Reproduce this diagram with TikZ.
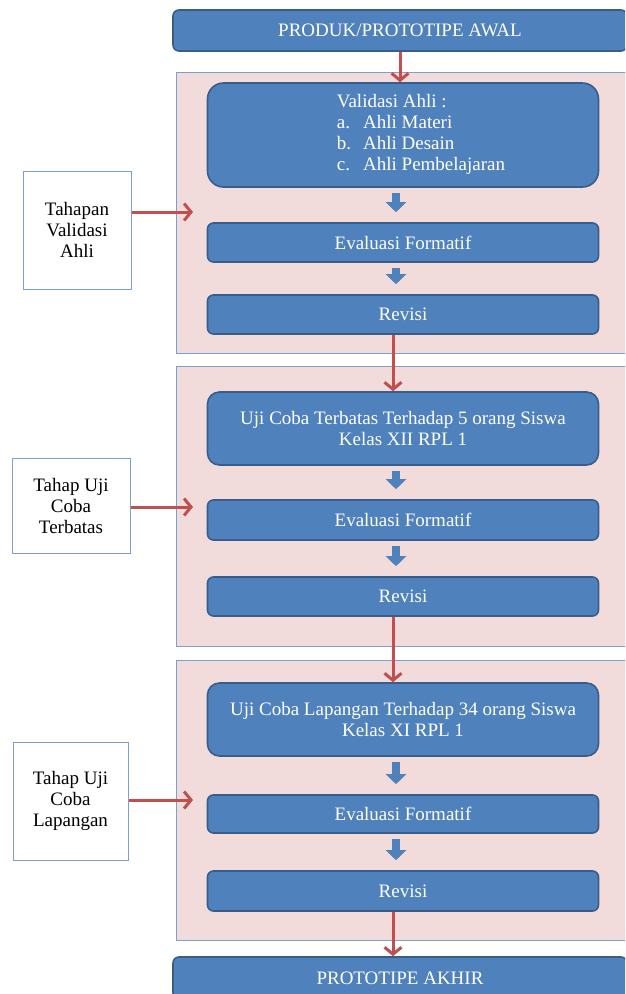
\documentclass[tikz,border=0pt]{standalone}
\usepackage{fontspec}
\setmainfont{Liberation Serif}
\usepackage{xcolor}
\usepackage{tikz}
\usetikzlibrary{arrows.meta,positioning,calc}
\definecolor{inkK}{HTML}{000000}
\definecolor{cBlue}{HTML}{4F81BD}
\definecolor{dBlue}{HTML}{385D8A}
\definecolor{lBlue}{HTML}{7A9FD0}
\definecolor{lRose}{HTML}{F2DCDB}
\definecolor{cRed}{HTML}{C0504D}

\tikzset{
  stagebox/.style={draw=dBlue, line width=1.6pt, fill=cBlue, rounded corners=6pt,
        minimum width=391pt, align=center, inner sep=0pt,
        font=\fontsize{19}{21}\selectfont, text=white},
  panelbox/.style={draw=lBlue, line width=1pt, fill=lRose, minimum width=454pt,
        inner sep=0pt},
  sidebox/.style={draw=lBlue, line width=1pt, fill=white, align=center,
        inner sep=0pt, font=\fontsize{19}{21}\selectfont, text=inkK},
  redarr/.style={draw=cRed, line width=3pt, -{Straight Barb[length=7pt,width=17pt]}},
  blockarr/.style={draw=cBlue, line width=8pt, -{Triangle[length=10pt,width=20pt]}}
}

\begin{document}
\begin{tikzpicture}[x=1pt,y=-1pt]
  \useasboundingbox (0,0) rectangle (625,994);
  \clip (0,0) rectangle (625,994);

  % awal dan akhir
  \node[stagebox, minimum width=454pt, minimum height=41pt] (awal) at (400,30.5)
    {PRODUK/PROTOTIPE AWAL};
  \node[stagebox, minimum width=454pt, minimum height=42pt] (akhir) at (400,978)
    {PROTOTIPE AKHIR};

  % tahap 1
  \node[panelbox, minimum height=281pt] (p1) at (403,212.5) {};
  \node[stagebox, rounded corners=16pt, minimum height=104pt] (va) at (403,135) {%
    \hspace*{36pt}\begin{tabular}{@{}l@{\hspace{12pt}}l@{}}
      \multicolumn{2}{@{}l@{}}{Validasi Ahli :}\\
      a. & Ahli Materi\\
      b. & Ahli Desain\\
      c. & Ahli Pembelajaran
    \end{tabular}};
  \node[stagebox, minimum height=39pt] (ef1) at (403,242.5) {Evaluasi Formatif};
  \node[stagebox, minimum height=39pt] (rv1) at (403,314.5) {Revisi};
  \node[sidebox, minimum width=108pt, minimum height=118pt] (t1) at (77,230)
    {Tahapan\\Validasi\\Ahli};
  \coordinate (in1) at (193,212);

  % tahap 2
  \node[panelbox, minimum height=280pt] (p2) at (403,506) {};
  \node[stagebox, rounded corners=12pt, minimum height=73pt] (uj1) at (403,428.5)
    {Uji Coba Terbatas Terhadap 5 orang Siswa\\Kelas XII RPL 1};
  \node[stagebox, minimum height=40pt] (ef2) at (403,520) {Evaluasi Formatif};
  \node[stagebox, minimum height=39pt] (rv2) at (403,596.5) {Revisi};
  \node[sidebox, minimum width=118pt, minimum height=95pt] (t2) at (71,505.5)
    {Tahap Uji\\Coba\\Terbatas};
  \coordinate (in2) at (193,507);

  % tahap 3
  \node[panelbox, minimum height=280pt] (p3) at (403,800) {};
  \node[stagebox, rounded corners=12pt, minimum height=73pt] (uj2) at (403,719.5)
    {Uji Coba Lapangan Terhadap 34 orang Siswa\\Kelas XI RPL 1};
  \node[stagebox, minimum height=38pt] (ef3) at (403,814) {Evaluasi Formatif};
  \node[stagebox, minimum height=40pt] (rv3) at (403,891) {Revisi};
  \node[sidebox, minimum width=115pt, minimum height=118pt] (t3) at (70.5,801)
    {Tahap Uji\\Coba\\Lapangan};
  \coordinate (in3) at (193,800);

  % panah merah
  \draw[redarr] (awal.south) -- (awal.south |- va.north);
  \draw[redarr] ([xshift=-10pt]rv1.south) -- ([xshift=-10pt]uj1.north);
  \draw[redarr] ([xshift=-10pt]rv2.south) -- ([xshift=-10pt]uj2.north);
  \draw[redarr] ([xshift=-10pt]rv3.south) -- ([xshift=-10pt]rv3.south |- akhir.north);
  \draw[redarr] (t1.east |- in1) -- (in1);
  \draw[redarr] (t2.east |- in2) -- (in2);
  \draw[redarr] (t3.east |- in3) -- (in3);

  % panah biru
  \foreach \a/\b in {va/ef1, ef1/rv1, uj1/ef2, ef2/rv2, uj2/ef3, ef3/rv3}
    \draw[blockarr] ([xshift=-7pt,yshift=-5pt]\a.south) -- ([xshift=-7pt,yshift=10pt]\b.north);
\end{tikzpicture}
\end{document}
